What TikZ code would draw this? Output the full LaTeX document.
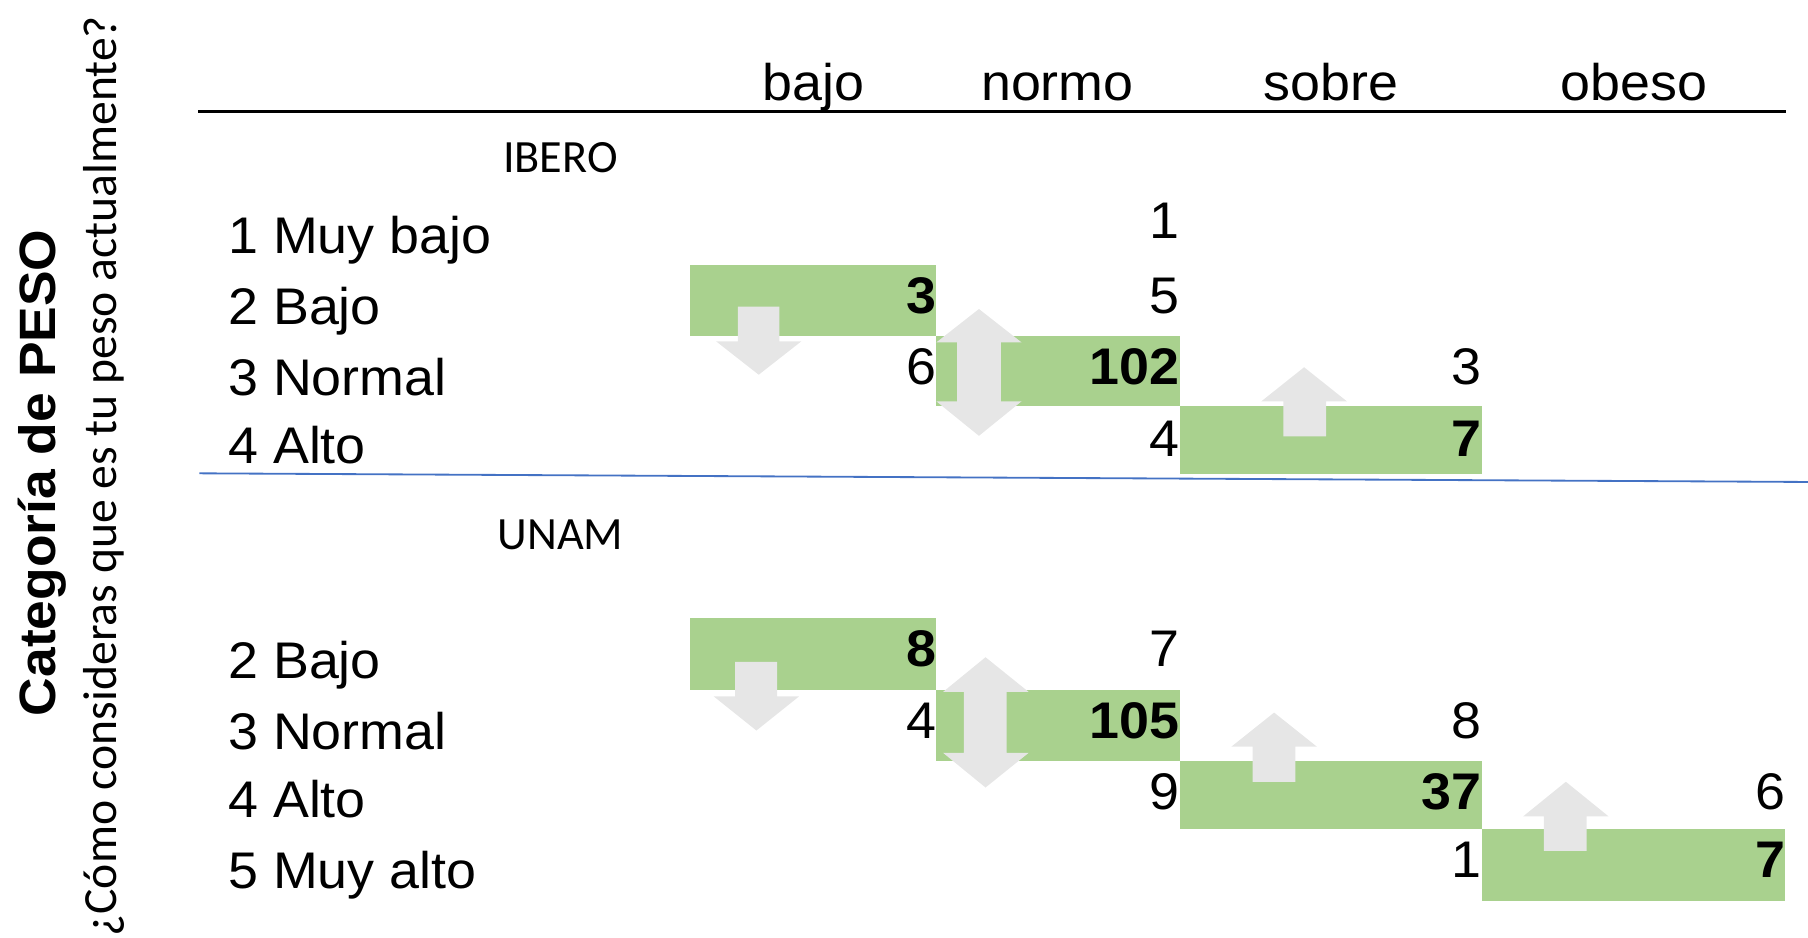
\documentclass[tikz,border=0pt]{standalone}
\usepackage{fontspec}
\setmainfont[FakeStretch=1.045]{Liberation Sans}
\newfontfamily\calib{Carlito}
\definecolor{boxgreen}{HTML}{A9D18E}
\definecolor{arrgray}{HTML}{E6E6E6}
\definecolor{lineblue}{HTML}{4472C4}
\begin{document}
\begin{tikzpicture}[x=0.01cm,y=-0.01cm,
  base/.style={inner sep=0pt, outer sep=0pt},
  hdr/.style={base, anchor=base, font=\fontsize{12.7}{15}\selectfont},
  lbl/.style={base, anchor=base west, font=\fontsize{12.7}{15}\selectfont},
  num/.style={base, anchor=base east, font=\fontsize{12.7}{15}\selectfont},
  bnum/.style={base, anchor=base east, font=\fontsize{12.7}{15}\selectfont\bfseries},
  grp/.style={base, anchor=base, font=\calib\fontsize{11.4}{13}\selectfont},
  cell/.style={fill=boxgreen, draw=none},
  garrow/.style={fill=arrgray, draw=none}]
\useasboundingbox (0,0) rectangle (1568,813);

% rotated titles
\node[base, rotate=90, font=\fontsize{12.6}{15}\selectfont\bfseries] (title) at (37,410) {Categoría de PESO};
\node[base, rotate=90, font=\calib\fontsize{11.75}{13}\selectfont] (subtitle) at (90,413) {¿Cómo consideras que es tu peso actualmente?};

% header
\node[hdr] (hbajo) at (705.5,87.6) {bajo};
\node[hdr] (hnormo) at (917,87.6) {normo};
\node[hdr] (hsobre) at (1154.4,87.6) {sobre};
\node[hdr] (hobeso) at (1417,87.6) {obeso};
\coordinate (tl) at (172,96.8);
\coordinate (tr) at (1548.6,96.8);
\draw[line width=0.6pt] (tl) -- (tr);

% separator
\coordinate (bl) at (173,410.5);
\coordinate (br) at (1568,418);
\draw[lineblue, line width=0.45pt] (bl) -- (br);

% group labels
\node[grp] (ibero) at (486,149.7) {IBERO};
\node[grp] (unam) at (486,477) {UNAM};

% green cells
\fill[cell] (598,230) rectangle (812,291.5);
\fill[cell] (812,291.5) rectangle (1023,352.5);
\fill[cell] (1023,352.5) rectangle (1285,411.5);
\fill[cell] (598,536) rectangle (812,598);
\fill[cell] (812,598) rectangle (1023,659.6);
\fill[cell] (1023,659.6) rectangle (1285,718.6);
\fill[cell] (1285,718.6) rectangle (1548,781);

% arrows IBERO
\fill[garrow] (640,266) -- (676,266) -- (676,296) -- (695,296) -- (658,325) -- (621,296) -- (640,296) -- cycle;
\fill[garrow] (849,268) -- (886,297) -- (868,297) -- (868,348) -- (886,348) -- (849,378) -- (812,348) -- (830,348) -- (830,297) -- (812,297) -- cycle;
\fill[garrow] (1131,318.5) -- (1168,348) -- (1150,348) -- (1150,378.5) -- (1113,378.5) -- (1113,348) -- (1094,348) -- cycle;
% arrows UNAM
\fill[garrow] (637.5,574) -- (674,574) -- (674,604) -- (693,604) -- (656,633.6) -- (619,604) -- (637.5,604) -- cycle;
\fill[garrow] (854.7,570) -- (892,600) -- (873,600) -- (873,653) -- (892,653) -- (854.7,683) -- (818,653) -- (836,653) -- (836,600) -- (818,600) -- cycle;
\fill[garrow] (1105,618) -- (1142,647.5) -- (1123.4,647.5) -- (1123.4,678) -- (1086.4,678) -- (1086.4,647.5) -- (1068,647.5) -- cycle;
\fill[garrow] (1358,678) -- (1395,708) -- (1376,708) -- (1376,738) -- (1339,738) -- (1339,708) -- (1321,708) -- cycle;

% row labels IBERO
\node[lbl] (i1) at (198,219.7) {1 Muy bajo};
\node[lbl] (i2) at (198,281.8) {2 Bajo};
\node[lbl] (i3) at (198,343.4) {3 Normal};
\node[lbl] (i4) at (198,402.3) {4 Alto};
% row labels UNAM
\node[lbl] (u2) at (198,588.3) {2 Bajo};
\node[lbl] (u3) at (198,649.8) {3 Normal};
\node[lbl] (u4) at (198,708.8) {4 Alto};
\node[lbl] (u5) at (198,770.4) {5 Muy alto};

% numbers IBERO
\node[num] (i1n) at (1023,207.2) {1};
\node[bnum] (i2b) at (812,272.3) {3};
\node[num] (i2n) at (1023,272.3) {5};
\node[num] (i3b) at (812,333.8) {6};
\node[bnum] (i3n) at (1023,333.8) {102};
\node[num] (i3s) at (1285,333.8) {3};
\node[num] (i4n) at (1023,396) {4};
\node[bnum] (i4s) at (1285,396) {7};

% numbers UNAM
\node[bnum] (u2b) at (812,578) {8};
\node[num] (u2n) at (1023,578) {7};
\node[num] (u3b) at (812,640.3) {4};
\node[bnum] (u3n) at (1023,640.3) {105};
\node[num] (u3s) at (1285,640.3) {8};
\node[num] (u4n) at (1023,702.4) {9};
\node[bnum] (u4s) at (1285,702.4) {37};
\node[num] (u4o) at (1548,702.4) {6};
\node[num] (u5s) at (1285,760.8) {1};
\node[bnum] (u5o) at (1548,760.8) {7};
\end{tikzpicture}
\end{document}
